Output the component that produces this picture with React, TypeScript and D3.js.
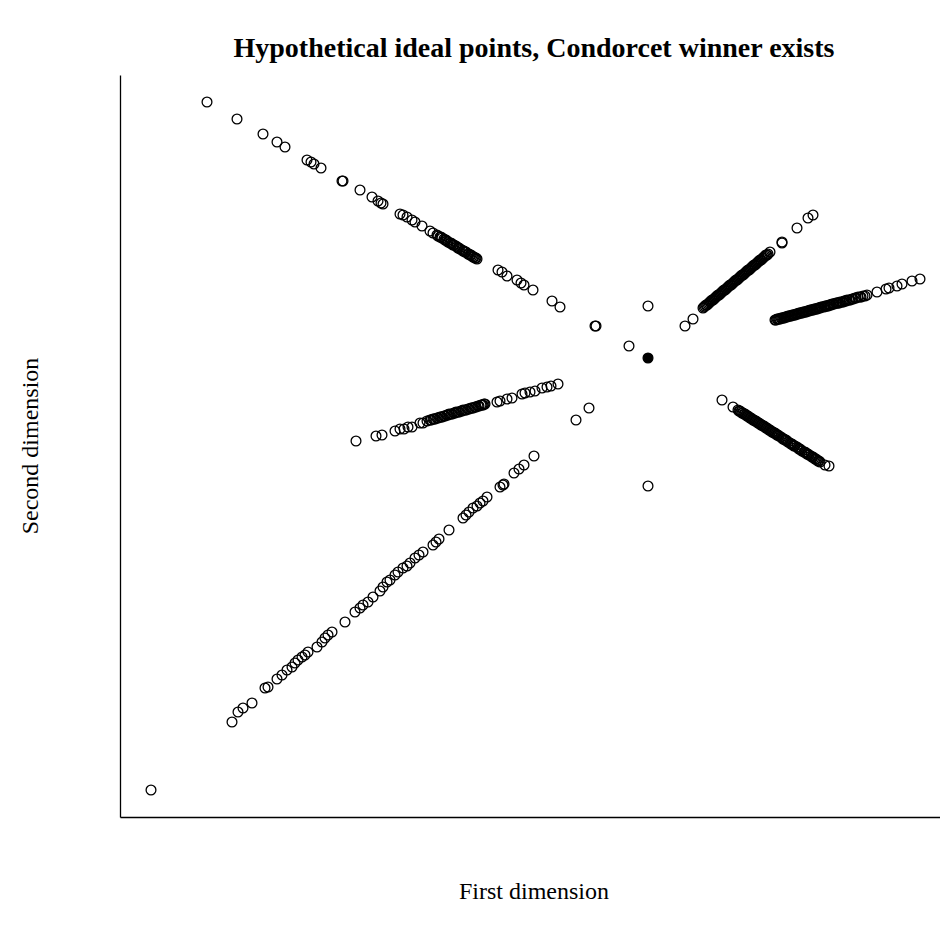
import React, { useEffect, useRef } from "react";
import * as d3 from "d3";

// ideal points, one array per arm, [first dimension, second dimension]
const upperLeftArm: [number, number][] = [
  [-4.41, 2.56], [-4.11, 2.39], [-3.85, 2.24], [-3.71, 2.16], [-3.63, 2.11],
  [-3.41, 1.98], [-3.37, 1.96], [-3.34, 1.94], [-3.27, 1.9], [-3.06, 1.77],
  [-3.05, 1.77], [-2.88, 1.68], [-2.76, 1.61], [-2.7, 1.57], [-2.67, 1.55],
  [-2.65, 1.54], [-2.48, 1.44], [-2.45, 1.43], [-2.41, 1.41], [-2.36, 1.38],
  [-2.33, 1.36], [-2.26, 1.32], [-2.18, 1.27], [-2.15, 1.25], [-2.11, 1.23],
  [-2.08, 1.21], [-2.07, 1.21], [-2.04, 1.19], [-2.02, 1.18], [-2.01, 1.17],
  [-1.98, 1.15], [-1.96, 1.14], [-1.95, 1.13], [-1.92, 1.12], [-1.9, 1.1],
  [-1.89, 1.1], [-1.86, 1.08], [-1.84, 1.07], [-1.83, 1.06], [-1.8, 1.04],
  [-1.78, 1.03], [-1.77, 1.03], [-1.75, 1.01], [-1.73, 1.0], [-1.71, 0.99],
  [-2.1, 1.22], [-2.06, 1.2], [-2.03, 1.18], [-2.0, 1.16], [-1.97, 1.15],
  [-1.94, 1.13], [-1.91, 1.11], [-1.88, 1.09], [-1.85, 1.07], [-1.82, 1.06],
  [-1.79, 1.04], [-1.76, 1.02], [-1.74, 1.01], [-1.72, 1.0],
  [-1.5, 0.88], [-1.46, 0.86], [-1.41, 0.82], [-1.31, 0.78], [-1.27, 0.75],
  [-1.24, 0.73], [-1.15, 0.68], [-0.96, 0.57], [-0.88, 0.51], [-0.53, 0.32],
  [-0.52, 0.32], [-0.19, 0.12],
];

const middleLeftArm: [number, number][] = [
  [-2.92, -0.83], [-2.72, -0.78], [-2.66, -0.77], [-2.53, -0.73], [-2.48, -0.71],
  [-2.44, -0.71], [-2.4, -0.69], [-2.36, -0.69], [-2.28, -0.65], [-2.25, -0.65],
  [-2.21, -0.63], [-2.18, -0.62], [-2.15, -0.61], [-2.13, -0.61], [-2.11, -0.6],
  [-2.08, -0.59], [-2.06, -0.59], [-2.03, -0.58], [-2.01, -0.57], [-1.99, -0.56],
  [-1.96, -0.56], [-1.94, -0.55], [-1.92, -0.54], [-1.89, -0.54], [-1.87, -0.53],
  [-1.85, -0.52], [-1.82, -0.52], [-1.8, -0.51], [-1.77, -0.5], [-1.75, -0.5],
  [-1.72, -0.49], [-1.7, -0.48], [-1.67, -0.47], [-1.65, -0.47], [-1.63, -0.46],
  [-2.17, -0.62], [-2.14, -0.61], [-2.1, -0.6], [-2.07, -0.59], [-2.04, -0.58],
  [-2.0, -0.57], [-1.97, -0.56], [-1.93, -0.55], [-1.9, -0.54], [-1.86, -0.53],
  [-1.83, -0.52], [-1.79, -0.51], [-1.76, -0.5], [-1.73, -0.49], [-1.69, -0.48],
  [-1.66, -0.47], [-1.64, -0.46],
  [-1.51, -0.44], [-1.48, -0.43], [-1.41, -0.41], [-1.36, -0.4], [-1.26, -0.36],
  [-1.23, -0.35], [-1.18, -0.34], [-1.13, -0.33], [-1.06, -0.3], [-1.01, -0.29],
  [-0.97, -0.28], [-0.9, -0.26],
];

const lowerLeftArm: [number, number][] = [
  [-0.59, -0.5], [-0.72, -0.62], [-1.14, -0.98], [-1.24, -1.07], [-1.29, -1.11],
  [-1.34, -1.15], [-1.45, -1.27], [-1.44, -1.26], [-1.48, -1.29], [-1.61, -1.39],
  [-1.65, -1.43], [-1.68, -1.45], [-1.71, -1.48], [-1.75, -1.5], [-1.79, -1.54],
  [-1.82, -1.57], [-1.85, -1.6], [-1.99, -1.72], [-2.09, -1.81], [-2.12, -1.84],
  [-2.15, -1.87], [-2.25, -1.94], [-2.29, -1.97], [-2.33, -2.0], [-2.38, -2.05],
  [-2.41, -2.08], [-2.45, -2.1], [-2.5, -2.14], [-2.53, -2.17], [-2.58, -2.22],
  [-2.61, -2.24], [-2.65, -2.29], [-2.68, -2.33], [-2.75, -2.39], [-2.8, -2.44],
  [-2.85, -2.47], [-2.88, -2.5], [-2.93, -2.54], [-3.03, -2.64], [-3.16, -2.74],
  [-3.2, -2.77], [-3.23, -2.8], [-3.26, -2.84], [-3.31, -2.89], [-3.4, -2.94],
  [-3.43, -2.97], [-3.46, -2.99], [-3.5, -3.02], [-3.53, -3.05], [-3.56, -3.09],
  [-3.61, -3.12], [-3.66, -3.17], [-3.71, -3.21], [-3.8, -3.29], [-3.83, -3.3],
  [-3.96, -3.45], [-4.05, -3.5], [-4.1, -3.54], [-4.16, -3.64], [-4.97, -4.32],
];

const upperRightArm: [number, number][] = [
  [0.37, 0.32], [0.45, 0.39], [0.55, 0.5], [0.57, 0.52], [0.59, 0.53],
  [0.6, 0.54], [0.62, 0.56], [0.64, 0.58], [0.66, 0.59], [0.67, 0.6],
  [0.69, 0.62], [0.71, 0.63], [0.73, 0.65], [0.75, 0.67], [0.76, 0.68],
  [0.78, 0.69], [0.8, 0.71], [0.82, 0.73], [0.83, 0.73], [0.85, 0.75],
  [0.87, 0.77], [0.89, 0.78], [0.91, 0.8], [0.92, 0.81], [0.94, 0.83],
  [0.96, 0.84], [0.98, 0.86], [1.0, 0.88], [1.01, 0.88], [1.03, 0.9],
  [1.05, 0.92], [1.07, 0.93], [1.09, 0.95], [1.11, 0.97], [1.13, 0.98],
  [1.15, 1.0], [1.17, 1.02], [1.19, 1.03], [1.22, 1.06],
  [0.56, 0.51], [0.58, 0.53], [0.61, 0.55], [0.63, 0.57], [0.65, 0.58],
  [0.68, 0.61], [0.7, 0.63], [0.72, 0.64], [0.74, 0.66], [0.77, 0.68],
  [0.79, 0.7], [0.81, 0.72], [0.84, 0.74], [0.86, 0.76], [0.88, 0.78],
  [0.9, 0.79], [0.93, 0.82], [0.95, 0.83], [0.97, 0.85], [0.99, 0.87],
  [1.02, 0.89], [1.04, 0.91], [1.06, 0.93], [1.08, 0.94], [1.1, 0.96],
  [1.12, 0.98], [1.14, 0.99], [1.16, 1.01], [1.18, 1.03], [1.2, 1.04],
  [1.34, 1.15], [1.34, 1.16], [1.49, 1.3], [1.6, 1.4], [1.65, 1.43],
];

const rightArm: [number, number][] = [
  [1.27, 0.38], [1.29, 0.39], [1.31, 0.39], [1.33, 0.4], [1.35, 0.4],
  [1.37, 0.41], [1.4, 0.42], [1.42, 0.42], [1.44, 0.43], [1.46, 0.43],
  [1.48, 0.44], [1.5, 0.44], [1.53, 0.45], [1.55, 0.46], [1.57, 0.46],
  [1.59, 0.47], [1.61, 0.47], [1.63, 0.48], [1.66, 0.49], [1.68, 0.49],
  [1.7, 0.5], [1.72, 0.5], [1.74, 0.51], [1.77, 0.52], [1.79, 0.52],
  [1.81, 0.53], [1.83, 0.53], [1.85, 0.54], [1.88, 0.55], [1.9, 0.55],
  [1.92, 0.56], [1.95, 0.56], [1.97, 0.57], [1.99, 0.58], [2.02, 0.58],
  [2.04, 0.59], [2.07, 0.6], [2.1, 0.61], [2.12, 0.61], [2.15, 0.62],
  [2.17, 0.62], [2.19, 0.63],
  [1.28, 0.38], [1.3, 0.39], [1.32, 0.39], [1.34, 0.4], [1.36, 0.4],
  [1.38, 0.41], [1.39, 0.41], [1.41, 0.42], [1.43, 0.42], [1.45, 0.43],
  [1.47, 0.43], [1.49, 0.44], [1.51, 0.45], [1.52, 0.45], [1.54, 0.45],
  [1.56, 0.46], [1.58, 0.46], [1.6, 0.47], [1.62, 0.48], [1.64, 0.48],
  [1.65, 0.48], [1.67, 0.49], [1.69, 0.49], [1.71, 0.5], [1.73, 0.51],
  [1.76, 0.51], [1.78, 0.52], [1.8, 0.52], [1.82, 0.53], [1.84, 0.54],
  [1.86, 0.54], [1.89, 0.55], [1.91, 0.55], [1.94, 0.56], [1.96, 0.57],
  [1.98, 0.57], [2.01, 0.58], [2.05, 0.59], [2.08, 0.6], [2.13, 0.61],
  [2.29, 0.66], [2.38, 0.69], [2.41, 0.7],
  [2.49, 0.72], [2.54, 0.74], [2.64, 0.77], [2.72, 0.79],
];

const lowerRightArm: [number, number][] = [
  [0.74, -0.42], [0.85, -0.49], [0.9, -0.52], [0.92, -0.53], [0.94, -0.55],
  [0.96, -0.56], [0.98, -0.57], [1.0, -0.58], [1.02, -0.6], [1.04, -0.61],
  [1.07, -0.63], [1.09, -0.64], [1.11, -0.65], [1.13, -0.67], [1.16, -0.68],
  [1.18, -0.7], [1.2, -0.71], [1.22, -0.72], [1.25, -0.74], [1.27, -0.75],
  [1.29, -0.77], [1.31, -0.78], [1.34, -0.8], [1.36, -0.81], [1.38, -0.82],
  [1.4, -0.84], [1.43, -0.86], [1.45, -0.87], [1.47, -0.88], [1.5, -0.9],
  [1.52, -0.91], [1.54, -0.93], [1.57, -0.94], [1.59, -0.96], [1.61, -0.97],
  [1.64, -0.99], [1.66, -1.0], [1.68, -1.01], [1.7, -1.03], [1.72, -1.04],
  [0.91, -0.53], [0.93, -0.54], [0.95, -0.55], [0.97, -0.56], [0.99, -0.58],
  [1.01, -0.59], [1.03, -0.6], [1.05, -0.62], [1.06, -0.62], [1.08, -0.63],
  [1.1, -0.65], [1.12, -0.66], [1.14, -0.67], [1.15, -0.68], [1.17, -0.69],
  [1.19, -0.7], [1.21, -0.72], [1.23, -0.73], [1.24, -0.74], [1.26, -0.75],
  [1.28, -0.76], [1.3, -0.77], [1.33, -0.79], [1.35, -0.81], [1.37, -0.82],
  [1.39, -0.83], [1.42, -0.85], [1.44, -0.86], [1.46, -0.88], [1.49, -0.89],
  [1.51, -0.91], [1.53, -0.92], [1.56, -0.94], [1.58, -0.95], [1.6, -0.96],
  [1.63, -0.98], [1.65, -0.99], [1.67, -1.01], [1.69, -1.02], [1.71, -1.03],
  [1.77, -1.07], [1.81, -1.08],
];

const centerPoints: [number, number][] = [
  [0, 0.52], [0, -1.28],
];

// the Condorcet winner, drawn filled
const winner: [number, number] = [0, 0];

const xDomain = [-5.28, 2.92];
const yDomain = [-4.59, 2.83];

const title = "Hypothetical ideal points, Condorcet winner exists";
const xLabel = "First dimension";
const yLabel = "Second dimension";

const width = 940;
const height = 936;
const margin = { top: 75, right: 0, bottom: 119, left: 120 };

export default function App() {
  const axisRef = useRef<SVGGElement>(null);

  const x = d3.scaleLinear().domain(xDomain).range([margin.left, width - margin.right]);
  const y = d3.scaleLinear().domain(yDomain).range([height - margin.bottom, margin.top]);

  const allOpen = [
    ...upperLeftArm,
    ...middleLeftArm,
    ...lowerLeftArm,
    ...upperRightArm,
    ...rightArm,
    ...lowerRightArm,
    ...centerPoints,
  ];

  useEffect(() => {
    if (!axisRef.current) return;
    const g = d3.select(axisRef.current);
    g.selectAll("*").remove();
    // axes without ticks, just the L-shaped frame
    g.append("g")
      .attr("transform", `translate(0,${height - margin.bottom})`)
      .call(d3.axisBottom(x).ticks(0).tickSizeOuter(0));
    g.append("g")
      .attr("transform", `translate(${margin.left},0)`)
      .call(d3.axisLeft(y).ticks(0).tickSizeOuter(0));
    g.selectAll(".domain").attr("stroke", "#000").attr("stroke-width", 1.3);
  }, []);

  const cx = 534;

  return (
    <svg
      width={width}
      height={height}
      style={{ position: "absolute", left: 0, top: 0, background: "#fff" }}
      fontFamily="'Liberation Serif', 'Times New Roman', serif"
    >
      <text x={cx} y={57} textAnchor="middle" fontSize={28} fontWeight="bold">
        {title}
      </text>
      <g ref={axisRef} />
      {allOpen.map((d, i) => (
        <circle
          key={i}
          cx={x(d[0])}
          cy={y(d[1])}
          r={4.9}
          fill="none"
          stroke="#000"
          strokeWidth={1.3}
        />
      ))}
      <circle cx={x(winner[0])} cy={y(winner[1])} r={4.9} fill="#000" stroke="#000" strokeWidth={1.3} />
      <text x={cx} y={899} textAnchor="middle" fontSize={24}>
        {xLabel}
      </text>
      <text
        transform={`translate(38,${(margin.top + height - margin.bottom) / 2}) rotate(-90)`}
        textAnchor="middle"
        fontSize={24}
      >
        {yLabel}
      </text>
    </svg>
  );
}
